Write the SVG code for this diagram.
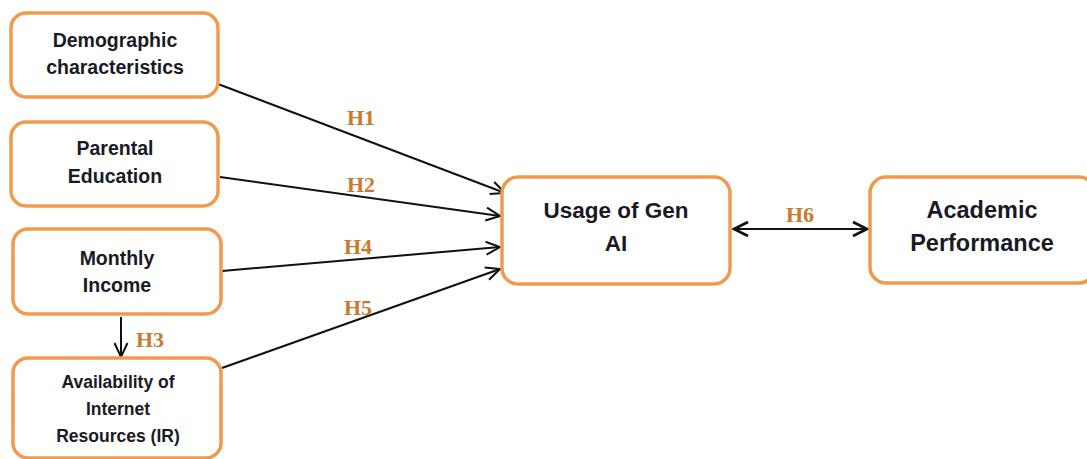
<svg xmlns="http://www.w3.org/2000/svg" width="1087" height="459" viewBox="0 0 1087 459">
<style>
.box{fill:#fff;stroke:#F09A4E;stroke-width:3.5}
.t{font-family:"Liberation Sans",Arial,sans-serif;font-weight:bold;fill:#1a1a24;text-anchor:middle}
.h{font-family:"Liberation Serif","Times New Roman",serif;font-weight:bold;fill:#C97A2C;font-size:22px;text-anchor:middle}
.c{stroke:#111;stroke-width:2;fill:none}
</style>
<defs>
<marker id="ah" viewBox="0 0 16 16" refX="15" refY="8" markerWidth="16" markerHeight="16" markerUnits="userSpaceOnUse" orient="auto-start-reverse">
<path d="M1,1.5 L15,8 L1,14.5" fill="none" stroke="#111" stroke-width="2"/>
</marker>
<marker id="ah2" viewBox="0 0 18 18" refX="17" refY="9" markerWidth="18" markerHeight="18" markerUnits="userSpaceOnUse" orient="auto-start-reverse">
<path d="M2,2 L16,9 L2,16" fill="none" stroke="#111" stroke-width="2.8"/>
</marker>
</defs>
<rect width="1087" height="459" fill="#fff"/>
<g id="connectors">
<line class="c" x1="218" y1="84" x2="505" y2="193" marker-end="url(#ah)"/>
<line class="c" x1="220" y1="177" x2="500" y2="216" marker-end="url(#ah)"/>
<line class="c" x1="222" y1="271" x2="500" y2="247" marker-end="url(#ah)"/>
<line class="c" x1="222" y1="368" x2="500" y2="269" marker-end="url(#ah)"/>
<line class="c" x1="121" y1="317" x2="121" y2="357" marker-end="url(#ah)"/>
<line class="c" x1="733" y1="229" x2="868" y2="229" stroke-width="2.8" marker-start="url(#ah2)" marker-end="url(#ah2)"/>
<text class="h" x="361" y="125">H1</text>
<text class="h" x="361" y="192">H2</text>
<text class="h" x="358" y="254">H4</text>
<text class="h" x="358" y="315">H5</text>
<text class="h" x="150" y="347">H3</text>
<text class="h" x="800" y="222">H6</text>
</g>
<g id="demographic">
<rect class="box" x="11" y="13" width="207" height="84" rx="15"/>
<text class="t" x="115" y="47" font-size="19.5">Demographic</text>
<text class="t" x="115" y="74" font-size="19.5">characteristics</text>
</g>
<g id="parental">
<rect class="box" x="11" y="122" width="207" height="84" rx="15"/>
<text class="t" x="115" y="155" font-size="19.5">Parental</text>
<text class="t" x="115" y="183" font-size="19.5">Education</text>
</g>
<g id="income">
<rect class="box" x="13" y="229" width="208" height="85" rx="15"/>
<text class="t" x="117" y="265" font-size="19.5">Monthly</text>
<text class="t" x="117" y="292" font-size="19.5">Income</text>
</g>
<g id="internet">
<rect class="box" x="13" y="358" width="208" height="100" rx="15"/>
<text class="t" x="118" y="388" font-size="17.5">Availability of</text>
<text class="t" x="118" y="415" font-size="17.5">Internet</text>
<text class="t" x="118" y="442" font-size="17.5">Resources (IR)</text>
</g>
<g id="genai">
<rect class="box" x="502" y="177" width="228" height="107" rx="16"/>
<text class="t" x="616" y="218" font-size="22.5">Usage of Gen</text>
<text class="t" x="616" y="251" font-size="22.5">AI</text>
</g>
<g id="academic">
<rect class="box" x="870" y="177" width="225" height="106" rx="16"/>
<text class="t" x="982" y="218" font-size="23.5">Academic</text>
<text class="t" x="982" y="251" font-size="23.5">Performance</text>
</g>
</svg>
